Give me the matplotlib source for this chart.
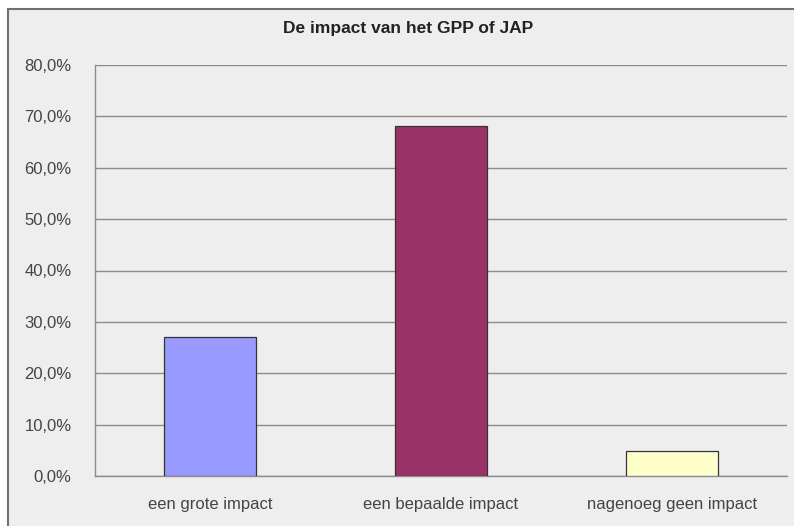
import matplotlib

matplotlib.use("Agg")

import matplotlib.pyplot as plt  # noqa: E402
from matplotlib.patches import Rectangle  # noqa: E402
from matplotlib.ticker import FuncFormatter  # noqa: E402

# Datos del gráfico
categories = ["een grote impact", "een bepaalde impact", "nagenoeg geen impact"]
values = [27.0, 68.1, 4.9]
bar_colors = ["#9999FF", "#993366", "#FFFFCC"]
y_ticks = [0, 10, 20, 30, 40, 50, 60, 70, 80]
title = "De impact van het GPP of JAP"

plt.rcParams["font.family"] = ["Liberation Sans", "DejaVu Sans"]

W, H = 794, 526
bg = "#EEEEEE"

fig = plt.figure(figsize=(W / 100, H / 100), dpi=100, facecolor="white")

# Marco exterior tipo Excel (recortado a la derecha y abajo)
frame = Rectangle((8 / W, -0.1), 1.2, 1.1 - 9 / H, transform=fig.transFigure,
                  facecolor=bg, edgecolor="#707070", linewidth=1.5, zorder=-10)
fig.patches.append(frame)

ax = fig.add_axes([95 / W, 1 - 476 / H, (787 - 95) / W, (476 - 65) / H])
ax.set_facecolor(bg)
ax.set_zorder(1)

x = range(len(categories))
ax.bar(x, values, width=0.4, color=bar_colors, edgecolor="#333333",
       linewidth=0.9, zorder=3)

ax.set_xlim(-0.5, len(categories) - 0.5)
ax.set_ylim(0, 80)
ax.set_yticks(y_ticks)
ax.yaxis.set_major_formatter(FuncFormatter(lambda v, _: f"{v:.1f}%".replace(".", ",")))
ax.set_xticks(list(x))
ax.set_xticklabels(categories)

ax.grid(axis="y", color="#8C8C8C", linewidth=1.0, zorder=1)
for side in ("top", "right"):
    ax.spines[side].set_visible(False)
for side in ("left", "bottom"):
    ax.spines[side].set_color("#8C8C8C")
    ax.spines[side].set_linewidth(1.0)

ax.tick_params(axis="both", length=0, labelsize=12, colors="#444444")
ax.tick_params(axis="y", pad=17)
ax.tick_params(axis="x", pad=15)

fig.text(408 / W, 1 - 28 / H, title, ha="center", va="center",
         fontsize=12.5, fontweight="bold", color="#222222", zorder=5)

fig.savefig("out.png", dpi=100, facecolor=fig.get_facecolor())
